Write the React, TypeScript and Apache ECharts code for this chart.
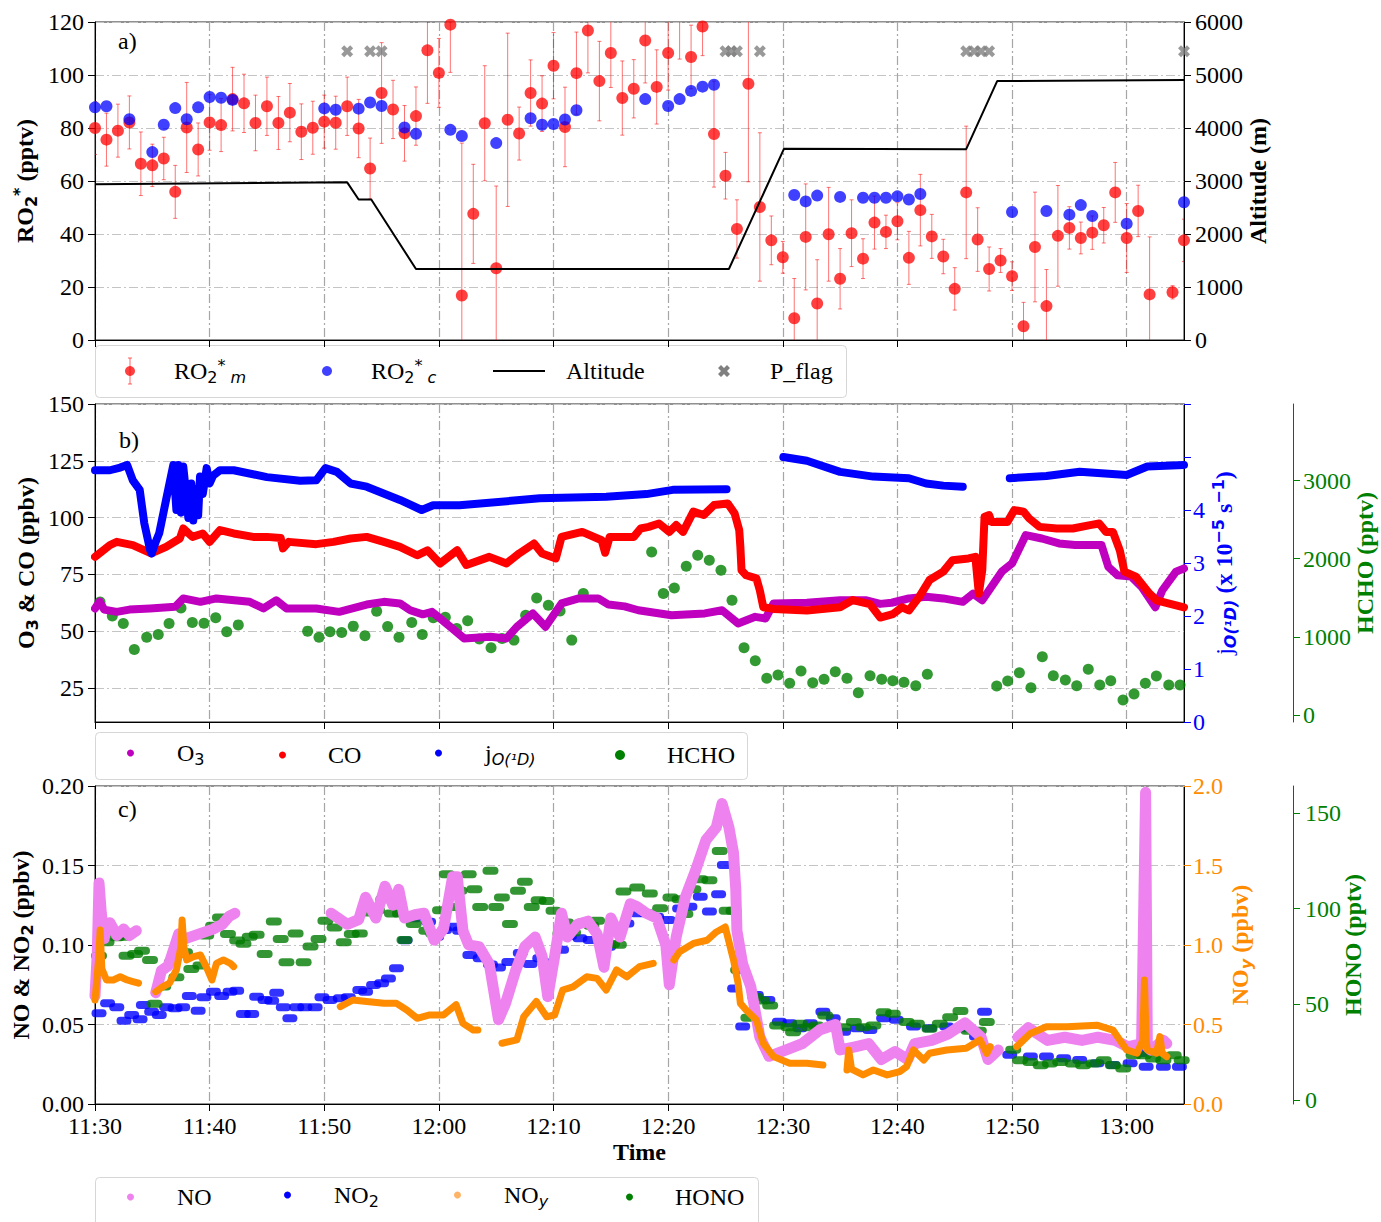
import React, { useEffect, useRef } from 'react';
import * as echarts from 'echarts';

// ---------- time axis: minutes after 11:30 ----------
const timeTicks = [0, 10, 20, 30, 40, 50, 60, 70, 80, 90];

// ---------- panel a ----------
// [minute, RO2*_m (pptv), error]
const ro2m = [
  [0, 80, 10], [1, 75.6, 10], [2, 79, 10], [3, 82.1, 10], [4, 66.5, 12], [5, 65.9, 8], [6, 68.5, 8], [7, 55.9, 10],
  [8, 80.2, 17], [9, 71.9, 10], [10, 82.1, 10.5], [11, 81.1, 10], [12, 90.9, 12], [13, 89.3, 11], [14, 81.9, 10.5],
  [15, 88.2, 11], [16, 81.9, 10], [17, 85.8, 11], [18, 78.6, 10.5], [19, 80.1, 10], [20, 82.4, 10], [21, 82, 10],
  [22, 88.2, 11], [23, 79.8, 11], [24, 64.7, 11.5], [25, 93.2, 19], [26, 87, 11], [27, 78, 10.5], [28, 84.5, 11],
  [29, 109.3, 20], [30, 100.8, 13], [31, 119, 18], [32, 16.8, 57.5], [33, 47.6, 18.7], [34, 81.8, 21.7], [35, 27.1, 31],
  [36, 83.1, 32.7], [37, 77.9, 10], [38, 93.2, 12.5], [39, 89.2, 10.5], [40, 103.5, 12.5], [41, 80.4, 15], [42, 100.7, 15.5],
  [43, 116.8, 16], [44, 97.7, 15], [45, 108.3, 13], [46, 91.3, 14], [47, 94.8, 11], [48, 113, 16], [49, 95.5, 14],
  [50, 108.3, 14], [51, 125, 19], [52, 106.8, 12], [53, 118.3, 11], [54, 77.7, 20], [55, 62, 8.8], [56, 41.9, 11],
  [57, 96.7, 37], [58, 50.2, 28], [59, 37.6, 9.2], [60, 31.2, 6], [61, 8.2, 15], [62, 38.9, 20], [63, 13.8, 16.5],
  [64, 39.9, 17.7], [65, 23.1, 11.4], [66, 40.3, 12.6], [67, 30.7, 7.5], [68, 44.3, 10], [69, 40.8, 6.3], [70, 44.8, 7],
  [71, 31, 10], [72, 49, 13.5], [73, 39.1, 8.3], [74, 31.5, 6.5], [75, 19.3, 8], [76, 55.7, 25], [77, 37.9, 12],
  [78, 26.8, 8.3], [79, 30, 4.5], [80, 24.1, 5.4], [81, 5.2, 9], [82, 35.1, 20.7], [83, 12.8, 13.8], [84, 39.3, 19],
  [85, 42.3, 8], [86, 38.5, 6], [87, 40.5, 6.3], [88, 43.3, 6.7], [89, 55.7, 11.3], [90, 38.5, 13], [91, 48.7, 9.7],
  [92, 17.2, 21.7], [94, 18, 2.5], [95, 37.6, 8],
];
// [minute, RO2*_c (pptv)]
const ro2c = [
  [0, 87.8], [1, 88.2], [3, 83.3], [5, 70.9], [6, 81.2], [7, 87.5], [8, 83.3], [9, 87.8], [10, 91.7], [11, 91.4],
  [12, 90.6], [20, 87.4], [21, 86.9], [23, 87.3], [24, 89.6], [25, 88.3], [27, 80.2], [28, 77.8], [31, 79.3], [32, 77],
  [35, 74.3], [38, 83.7], [39, 81.2], [40, 81.5], [41, 83.2], [42, 86.7], [48, 90.9], [50, 88.3], [51, 90.9], [52, 94],
  [53, 95.6], [54, 96.3], [61, 54.7], [62, 52.3], [63, 54.5], [65, 54], [67, 53.7], [68, 53.7], [69, 53.7], [70, 54.2],
  [71, 53], [72, 55.1], [80, 48.3], [83, 48.7], [85, 47.3], [86, 50.9], [87, 46.8], [90, 43.9], [95, 52],
];
// [minute, altitude (m)]
const altitude = [
  [0, 2940], [22, 2975], [23, 2650], [24.1, 2650], [28, 1340], [55.3, 1340], [60.1, 3607], [76, 3600], [78.7, 4885], [95, 4905],
];
const pFlagTimes = [22, 24, 25, 55, 55.5, 56, 58, 76, 76.7, 77.3, 78, 95];
const pFlagLevel = 109;

// ---------- panel b ----------
const o3Segs = [[
  [0, 60], [0.4, 63], [0.8, 59.5], [1.9, 58.5], [3, 59.5], [4.8, 60], [7, 60.7], [7.7, 64.4], [9.2, 62.9], [10.6, 64.4],
  [13.5, 62.9], [14.7, 60], [15.8, 63.6], [16.7, 60], [19.3, 60], [21.3, 58.5], [23.7, 61.7], [25.2, 62.9], [26.6, 62.2],
  [27.5, 59.2], [28.6, 57.4], [29.4, 58.5], [30.1, 55.6], [31, 51.9], [32.2, 46.8], [34.5, 47.5], [35.9, 46.8],
  [36.8, 51.9], [38.2, 57.8], [39.3, 51.9], [39.9, 56.3], [40.7, 62.2], [42.2, 64.4], [43.9, 64.4], [44.8, 61.7],
  [46.2, 60.9], [47.4, 59.2], [50.3, 57], [53.2, 57.8], [54.7, 59.2], [56.1, 53.4], [57.6, 56.3], [58.5, 55.6],
  [59.2, 62.2], [62.1, 62.5], [65, 63.6], [67.3, 63.6], [68.5, 62], [69.5, 62.5], [71, 64.4], [72.5, 65.1], [74, 64.4],
  [75.7, 62.9], [76.6, 66.5], [77.4, 63.6], [79.1, 76.2], [80, 79.8], [81.2, 92.3], [82.6, 90.8], [84.1, 88.6],
  [85.5, 87.9], [87.8, 87.9], [88.4, 78.3], [89.2, 74.6], [90.4, 74], [91.3, 69.5], [92.5, 60.5], [93.1, 67.9],
  [94.3, 76.2], [95, 77.6],
]];
const coSegs = [[
  [0, 82.7], [1.3, 87.9], [1.9, 89.3], [3.3, 87.9], [4.9, 84.2], [6.2, 87.1], [7.4, 90.8], [7.7, 95.2], [8.5, 91.5],
  [9.4, 93], [10, 89.3], [10.9, 94.5], [12.1, 93], [13.8, 91.5], [15, 91.5], [16.2, 91], [16.4, 86.4], [16.9, 89.3],
  [19.3, 88.3], [20.8, 89.3], [22.3, 90.8], [23.7, 91.5], [25.2, 89.3], [26.6, 87.1], [28.1, 83.4], [29, 85.6],
  [30.1, 79.8], [31.6, 85.6], [32.4, 79.1], [34.4, 82.7], [35.9, 79.8], [37, 84.2], [38.3, 88.6], [39, 84.2],
  [40.2, 82], [40.7, 91.5], [42.5, 93.7], [44.2, 90], [44.5, 84.5], [44.9, 91.5], [47, 91.5], [47.6, 95.2], [48.3, 95.9],
  [49.2, 97.4], [50.1, 93.7], [50.7, 96.7], [51.3, 93.7], [52.2, 102.6], [53.1, 101.1], [54, 105.5], [55.2, 106.2],
  [55.8, 101.8], [56.2, 94.5], [56.3, 87.1], [56.4, 76.8], [56.8, 74.6], [57.7, 73.2], [58, 67.9], [58.3, 60.5],
  [59.2, 59.8], [62.1, 59.1], [65, 60.5], [66.1, 63.7], [67.6, 61.9], [68.5, 56], [69.6, 57.5], [70.4, 60.5], [71, 59.1],
  [71.9, 65.1], [72.8, 72.5], [74, 76.2], [74.8, 81.2], [76.2, 82], [76.8, 82.7], [77.1, 66.5], [77.4, 76.8],
  [77.6, 100.4], [78, 101.1], [78.2, 98.1], [79.6, 98.1], [80.2, 103.3], [81, 102.6], [81.5, 99.6], [82.4, 95.9],
  [83.9, 95.2], [85.3, 95.2], [86.8, 96.7], [87.6, 97.4], [88.2, 93.7], [88.8, 93.7], [89.4, 85.6], [89.8, 76.2],
  [90.8, 74], [92, 66.5], [92.6, 63.6], [95, 60.5],
]];
const jo1dSegs = [
  [
    [0, 4.75], [1.3, 4.75], [2.2, 4.8], [2.8, 4.85], [3.3, 4.56], [3.9, 4.38], [4.3, 3.75], [4.8, 3.25], [4.95, 3.18],
    [5.3, 3.4], [5.6, 3.56], [6.2, 4.19], [6.83, 4.85], [7.1, 4.0], [7.27, 4.85], [7.5, 3.95], [7.7, 4.82], [8.0, 4.2],
    [8.14, 3.85], [8.4, 4.5], [8.57, 3.8], [8.8, 4.4], [9.0, 3.9], [9.16, 4.63], [9.4, 4.3], [9.74, 4.79], [10.0, 4.5],
    [10.3, 4.65], [10.9, 4.75], [12.1, 4.75], [15, 4.62], [17.9, 4.55], [19.3, 4.56], [20.1, 4.79], [21.1, 4.72],
    [22.3, 4.5], [23.7, 4.44], [26.6, 4.19], [28.5, 4.0], [29.5, 4.09], [31.8, 4.09], [38.8, 4.22], [44.6, 4.25],
    [48.1, 4.3], [50.4, 4.38], [55.1, 4.39],
  ],
  [[60.05, 5.0], [62.1, 4.93], [65, 4.72], [67.9, 4.63], [71, 4.6], [72.5, 4.5], [74, 4.46], [75.7, 4.44]],
  [[79.8, 4.6], [83, 4.64], [85.9, 4.72], [90, 4.66], [91.8, 4.82], [95, 4.85]],
];
const hcho = [
  [0.44, 1447], [1.51, 1268], [2.47, 1171], [3.43, 839], [4.51, 996], [5.52, 1030], [6.46, 1171], [7.5, 1370],
  [8.49, 1184], [9.51, 1175], [10.53, 1243], [11.49, 1064], [12.5, 1153], [18.55, 1073], [19.54, 996], [20.5, 1064],
  [21.52, 1056], [22.53, 1137], [23.55, 1013], [24.57, 1328], [25.53, 1133], [26.52, 996], [27.63, 1184], [28.55, 1030],
  [29.51, 1243], [30.56, 1252], [31.55, 1107], [32.51, 1205], [33.53, 971], [34.55, 860], [35.51, 980], [36.55, 958],
  [37.57, 1277], [38.53, 1498], [39.55, 1405], [40.57, 1332], [41.59, 958], [42.6, 1554], [48.56, 2086], [49.58, 1554],
  [50.54, 1626], [51.58, 1903], [52.58, 2043], [53.59, 1980], [54.61, 1852], [55.57, 1469], [56.62, 860], [57.6, 694],
  [58.6, 469], [59.58, 511], [60.6, 405], [61.59, 562], [62.61, 413], [63.6, 456], [64.58, 553], [65.6, 469],
  [66.59, 285], [67.61, 502], [68.63, 456], [69.59, 438], [70.57, 418], [71.6, 374], [72.61, 520], [78.66, 370],
  [79.62, 434], [80.64, 540], [81.65, 349], [82.64, 745], [83.6, 502], [84.65, 447], [85.64, 374], [86.65, 584],
  [87.65, 383], [88.61, 438], [89.68, 192], [90.64, 268], [91.63, 405], [92.59, 498], [93.67, 383], [94.65, 383],
];

// ---------- panel c ----------
const noSegs = [
  [[0, 0.068], [0.2, 0.095], [0.35, 0.139], [0.55, 0.12], [0.8, 0.104], [1.0, 0.112], [1.3, 0.114], [1.9, 0.106],
   [2.5, 0.11], [3.0, 0.106], [3.6, 0.109]],
  [[5.3, 0.07], [5.8, 0.084], [6.4, 0.087], [7.3, 0.107], [7.9, 0.104], [9.1, 0.107], [10.3, 0.11], [11.1, 0.113],
   [11.7, 0.118], [12.2, 0.12]],
  [[20.6, 0.12], [21.2, 0.117], [22, 0.113], [23, 0.116], [23.6, 0.13], [24.5, 0.117], [25.3, 0.137], [26, 0.125],
   [26.5, 0.135], [27, 0.117], [27.9, 0.119], [28.7, 0.12], [29.6, 0.103], [30.4, 0.11], [31.2, 0.143], [31.6, 0.143],
   [32.1, 0.109], [32.6, 0.1], [33.5, 0.099], [34.4, 0.088], [35.2, 0.053], [35.8, 0.063], [36.7, 0.084], [37.5, 0.099],
   [38.4, 0.105], [39, 0.093], [39.5, 0.0675], [40.1, 0.093], [40.7, 0.12], [41.2, 0.105], [42.1, 0.113], [43, 0.115],
   [43.8, 0.107], [44.4, 0.086], [45, 0.117], [45.8, 0.105], [46.7, 0.126], [47.3, 0.124], [48.1, 0.12], [49, 0.117],
   [49.8, 0.1], [50.1, 0.075], [50.7, 0.105], [51.5, 0.13], [52.4, 0.147], [53.3, 0.166], [54.2, 0.174], [54.7, 0.189],
   [55.3, 0.174], [55.7, 0.158], [55.9, 0.135], [56, 0.109], [56.5, 0.088], [57.2, 0.074], [58, 0.042], [58.8, 0.03],
   [60.3, 0.034], [61.7, 0.038], [63.2, 0.0465], [64.6, 0.05], [65, 0.034], [66.3, 0.036], [67.5, 0.038], [68.6, 0.028],
   [69.8, 0.033], [70.9, 0.028], [71.5, 0.038], [73, 0.04], [74.4, 0.044], [75.9, 0.051], [77.3, 0.042], [77.9, 0.028],
   [78.8, 0.034]],
  [[80.5, 0.042], [81.4, 0.048], [83.1, 0.04], [84.6, 0.042], [86.1, 0.04], [87.5, 0.042], [89, 0.04], [90.1, 0.036],
   [91.3, 0.038], [91.65, 0.196], [91.8, 0.036], [92.1, 0.034], [93.2, 0.04], [93.5, 0.038]],
];
const no2 = [
  [0.35, 0.057], [1.1, 0.0633], [1.9, 0.0608], [2.53, 0.0524], [3.2, 0.056], [3.93, 0.0533], [4.22, 0.0623],
  [4.94, 0.058], [5.61, 0.056], [6.25, 0.0608], [6.98, 0.0602], [7.65, 0.0608], [8.23, 0.0679], [9.0, 0.0587],
  [9.5, 0.0671], [10.33, 0.0706], [11.05, 0.0679], [11.78, 0.0706], [12.36, 0.0713], [12.94, 0.0566], [13.67, 0.0566],
  [14.1, 0.0675], [14.83, 0.0654], [15.41, 0.065], [15.85, 0.07], [16.43, 0.0608], [17.0, 0.0539], [17.6, 0.0608],
  [18.3, 0.0608], [19.2, 0.0608], [19.8, 0.0671], [20.5, 0.0654], [21.4, 0.0665], [22.1, 0.0671], [23.1, 0.0717],
  [23.6, 0.0706], [24.3, 0.0748], [25.0, 0.0759], [25.6, 0.079], [26.3, 0.0853], [27.05, 0.103], [27.8, 0.1168],
  [28.5, 0.1189], [29.1, 0.1147], [29.8, 0.1052], [30.5, 0.1094], [31.3, 0.1115], [31.8, 0.109], [32.7, 0.0937],
  [33.6, 0.0917], [34.5, 0.0877], [35.2, 0.0858], [36.1, 0.0893], [37.1, 0.095], [37.95, 0.088], [38.8, 0.0917],
  [39.7, 0.089], [40.7, 0.097], [41.4, 0.1056], [42.3, 0.1042], [43.2, 0.1032], [44.1, 0.104], [44.8, 0.0989],
  [45.7, 0.1105], [46.4, 0.1136], [47.3, 0.1199], [48.1, 0.1199], [49.0, 0.1178], [50.0, 0.1157], [51.0, 0.123],
  [51.9, 0.1241], [52.8, 0.1304], [53.6, 0.121], [54.4, 0.1319], [54.9, 0.1503], [55.8, 0.0727], [56.5, 0.0487],
  [57.7, 0.0685], [58.7, 0.0654], [59.7, 0.0518], [60.6, 0.0508], [61.5, 0.0476], [62.4, 0.0508], [63.5, 0.058],
  [64.4, 0.0539], [65.3, 0.0455], [66.5, 0.0476], [67.6, 0.0466], [68.8, 0.0539], [69.9, 0.053], [71.4, 0.0487],
  [72.8, 0.0476], [74.3, 0.0487], [75.8, 0.0476], [76.9, 0.0424], [77.6, 0.058], [79.8, 0.031], [81.6, 0.0298],
  [83.0, 0.0298], [84.5, 0.0288], [85.9, 0.0277], [87.4, 0.0256], [88.8, 0.0246], [90.3, 0.0256], [91.2, 0.032],
  [91.7, 0.0235], [93.2, 0.0235], [94.6, 0.0235],
];
const noySegs = [
  [[0, 0.654], [0.3, 0.9], [0.45, 1.094], [0.6, 0.85], [1.0, 0.78], [1.6, 0.78], [2.2, 0.8], [2.8, 0.78], [3.3, 0.77],
   [3.8, 0.76]],
  [[5.3, 0.706], [5.9, 0.737], [6.5, 0.76], [7.1, 0.843], [7.5, 0.99], [7.6, 1.157], [7.75, 0.99], [8.0, 0.906],
   [8.6, 0.927], [9.2, 0.937], [9.7, 0.864], [10.2, 0.78], [10.6, 0.885], [11.2, 0.906], [11.8, 0.885], [12.1, 0.864]],
  [[21.4, 0.612], [22.5, 0.654], [23.7, 0.645], [25.2, 0.633], [26.3, 0.633], [27.2, 0.591], [28.1, 0.539],
   [29.2, 0.56], [30.4, 0.56], [31.5, 0.625], [32.1, 0.507], [33, 0.465], [33.4, 0.465]],
  [[35.5, 0.382], [36.8, 0.403], [37.4, 0.549], [38.5, 0.645], [39.4, 0.549], [40.1, 0.56], [40.8, 0.717],
   [41.7, 0.737], [42.9, 0.8], [43.8, 0.79], [44.6, 0.717], [45.5, 0.843], [46.4, 0.8], [47.5, 0.864], [48.7, 0.885]],
  [[50.5, 0.906], [51, 0.958], [52.2, 1.01], [53.4, 1.03], [54.2, 1.082], [54.98, 1.113], [55.7, 0.906], [56.1, 0.76],
   [56.3, 0.633], [56.8, 0.591], [57.7, 0.528], [58.3, 0.382], [59.2, 0.298], [60.6, 0.256], [62.1, 0.256], [63.5, 0.245]],
  [[65.6, 0.214], [65.75, 0.34], [66, 0.22], [67, 0.183], [67.9, 0.214], [69.1, 0.183], [70.2, 0.204], [70.8, 0.235],
   [71.4, 0.34], [72.3, 0.277], [72.8, 0.319], [74.3, 0.34], [76, 0.35], [77.2, 0.403], [77.8, 0.319], [78.1, 0.361]],
  [[80.4, 0.361], [81.6, 0.444], [83, 0.486], [84.8, 0.486], [87.4, 0.496], [88.8, 0.465], [90, 0.34], [90.9, 0.319],
   [91.4, 0.4], [91.55, 0.78], [91.7, 0.4], [91.8, 0.34], [92.6, 0.32], [92.9, 0.424], [93.1, 0.32], [93.5, 0.298]],
];
const hono = [
  [0.35, 75.4], [1.0, 82.4], [1.9, 85], [2.6, 85.3], [2.75, 75.4], [3.5, 76.3], [4.1, 78], [4.8, 73.2], [5.2, 50.3],
  [5.95, 59.3], [6.7, 72], [7.1, 64.2], [7.85, 77.2], [8.4, 68.5], [9.2, 70.3], [9.7, 85.9], [10.3, 91.1], [10.9, 95.4],
  [11.6, 86.8], [12.4, 83.3], [12.95, 81.6], [13.5, 85.3], [14.1, 86.3], [14.8, 76.3], [15.6, 93.3], [16.2, 84.1],
  [16.7, 72], [17.5, 87], [18.2, 72], [18.8, 80.2], [19.5, 84.1], [20.1, 93.6], [20.9, 90.2], [21.7, 82.4], [22.4, 86.7],
  [23.1, 87], [23.8, 98], [24.6, 99.2], [25.15, 104.9], [25.9, 97.4], [26.6, 97.4], [27.0, 83.6], [27.8, 91.9],
  [28.4, 97.4], [28.9, 88.4], [29.5, 87], [30.1, 99.2], [30.7, 117.9], [31.3, 100.9], [31.8, 109.3], [32.6, 117.9],
  [33.1, 110.1], [33.6, 100.9], [34.5, 119.7], [35.0, 100.9], [35.5, 105.8], [36.2, 91.9], [36.9, 109.3], [37.5, 114],
  [38.1, 100.9], [38.7, 104.4], [39.4, 104], [40.0, 98.9], [40.6, 87], [41.1, 92.8], [41.7, 87.5], [42.6, 92.8],
  [43.3, 91], [43.8, 93.7], [44.3, 84.1], [45.1, 81.5], [45.7, 81.1], [46.1, 108.9], [47.3, 111], [48.4, 107.9],
  [49.3, 100.2], [50.2, 105.8], [51.0, 104.9], [51.5, 97.2], [52.2, 110.1], [52.8, 115.3], [53.6, 114.8], [54.5, 130.1],
  [55.1, 98.9], [55.7, 98.9], [56.1, 68], [57.0, 43], [57.6, 53.8], [58.2, 52], [58.9, 49.4], [59.5, 39], [60.5, 38.1],
  [60.9, 35.5], [61.5, 39.9], [62.2, 38.1], [62.9, 39], [63.7, 44.2], [64.4, 39], [65.3, 38.1], [66.2, 40.8], [67.0, 38.1],
  [67.9, 39], [68.8, 45.9], [69.6, 45.1], [70.8, 40.8], [71.7, 39.9], [72.8, 37.3], [73.7, 39.9], [74.6, 43.3],
  [75.5, 46.6], [76.2, 36.2], [77.1, 36.2], [77.8, 40.8], [80.1, 26.3], [80.7, 20.8], [81.6, 19.9], [82.5, 18.2],
  [83.3, 19.1], [84.2, 19.9], [85.3, 19.1], [86.2, 18.2], [87.1, 19.1], [88.0, 20.8], [88.8, 18.2], [89.7, 16.5],
  [90.6, 23.4], [91.5, 23.4], [92.3, 21.7], [93.2, 20.8], [94.1, 23.4], [94.8, 20.8],
];

// ---------- style constants ----------
const SERIF = '"Liberation Serif", "Times New Roman", serif';
const MATH = '"DejaVu Sans", sans-serif';
const X_PATH = 'path://M0,3 L3,0 L6,3 L9,0 L12,3 L9,6 L12,9 L9,12 L6,9 L3,12 L0,9 L3,6 Z';
const CAPSULE = 'path://M4,0 L12,0 A4,4 0 0 1 12,8 L4,8 A4,4 0 0 1 4,0 Z';

function joinSegs(segs: number[][][]) {
  const out: any[] = [];
  segs.forEach((s, i) => {
    if (i > 0) out.push([s[0][0], '-']);
    s.forEach((p) => out.push(p));
  });
  return out;
}

function timeLabel(v: number) {
  const tot = 11 * 60 + 30 + Math.round(v);
  const h = Math.floor(tot / 60);
  const m = tot % 60;
  return `${h}:${String(m).padStart(2, '0')}`;
}

function rich(color: string, bold: boolean) {
  const w = bold ? 'bold' : 'normal';
  return {
    r: { fontFamily: SERIF, fontSize: 24, color, fontWeight: 'normal' },
    b: { fontFamily: SERIF, fontSize: 24, color, fontWeight: w },
    sub: { fontFamily: MATH, fontSize: 16, color, padding: [12, 0, 0, 0] },
    sup: { fontFamily: MATH, fontSize: 16, color, padding: [0, 0, 12, 0] },
    it: { fontFamily: MATH, fontSize: 16, color, fontStyle: 'italic', padding: [12, 0, 0, 0] },
  };
}

const gridLineH = { show: true, lineStyle: { color: '#c4c4c4', type: [9, 3, 2, 3], width: 1.2 } };
const gridLineV = { show: true, lineStyle: { color: '#a6a6a6', type: [9, 3, 2, 3], width: 1.2 } };

function xAxis(i: number) {
  return {
    type: 'value', gridIndex: i, min: 0, max: 95,
    axisLine: { show: true, onZero: false, lineStyle: { color: '#000', width: 1 } },
    axisTick: { show: true, length: 7, customValues: timeTicks, lineStyle: { color: '#000' } },
    axisLabel: {
      show: i === 2, customValues: timeTicks, formatter: timeLabel, margin: 10,
      fontFamily: SERIF, fontSize: 24, color: '#000',
    },
    splitLine: gridLineV,
    name: i === 2 ? 'Time' : '',
    nameLocation: 'middle', nameGap: 36, nameMoveOverlap: false,
    nameTextStyle: { fontFamily: SERIF, fontSize: 24, fontWeight: 'bold', color: '#000' },
  };
}

function yAxis(o: any) {
  const color = o.color || '#000';
  return {
    type: 'value', gridIndex: o.grid, position: o.pos, offset: o.offset || 0,
    min: o.min, max: o.max, interval: o.interval,
    axisLine: { show: true, onZero: false, lineStyle: { color: o.lineColor || '#000', width: 1 } },
    axisTick: { show: true, length: 7, customValues: o.ticks, lineStyle: { color } },
    axisLabel: {
      show: true, customValues: o.ticks, formatter: o.fmt || ((v: number) => String(v)), margin: o.margin || 11,
      fontFamily: SERIF, fontSize: 24, color,
    },
    splitLine: o.split ? gridLineH : { show: false },
    name: o.name, nameLocation: 'middle', nameGap: o.gap, nameMoveOverlap: false,
    nameTextStyle: { fontFamily: SERIF, fontSize: 24, fontWeight: 'bold', color, rich: rich(color, true) },
  };
}

function legendItem(o: any) {
  return {
    show: true, selectedMode: false, left: o.left, top: o.top, orient: 'horizontal',
    itemWidth: o.w, itemHeight: o.h, padding: 0,
    data: [{ name: o.name, icon: o.icon, itemStyle: { color: o.color, opacity: o.opacity == null ? 1 : o.opacity } }],
    formatter: () => o.label,
    textStyle: { fontFamily: SERIF, fontSize: 24, color: '#000', padding: [0, 0, 0, o.pad], rich: rich('#000', false) },
  };
}

const App: React.FC = () => {
  const ref = useRef<HTMLDivElement>(null);

  useEffect(() => {
    if (!ref.current) return;
    const chart = echarts.init(ref.current, undefined, { renderer: 'svg' });

    const grids = [22, 404, 786].map((top) => ({
      left: 95, right: 197, top, height: 318, show: true, borderColor: '#222', borderWidth: 1,
      backgroundColor: 'transparent', containLabel: false, outerBoundsMode: 'none',
    }));

    const yAxes = [
      yAxis({ grid: 0, pos: 'left', min: 0, max: 120, interval: 20, split: true, gap: 56,
        name: '{b|RO}{sub|2}{sup|*}{b| (pptv)}' }),
      yAxis({ grid: 0, pos: 'right', min: 0, max: 6000, interval: 1000, gap: 62, name: 'Altitude (m)' }),
      yAxis({ grid: 1, pos: 'left', min: 10, max: 150, ticks: [25, 50, 75, 100, 125, 150], split: true, gap: 55,
        name: '{b|O}{sub|3}{b| & CO (ppbv)}' }),
      yAxis({ grid: 1, pos: 'right', min: 0, max: 6, interval: 1, color: '#0000ff', margin: 9, gap: 26,
        fmt: (v: number) => (v <= 4 ? String(v) : ''),
        name: '{r|j}{it|O(¹D)}{b| (x 10}{sup|−5}{b| s}{sup|−1}{b|)}' }),
      yAxis({ grid: 1, pos: 'right', offset: 109, min: -90, max: 3980, ticks: [0, 1000, 2000, 3000],
        color: '#008000', lineColor: '#444', margin: 10, gap: 60, name: 'HCHO (pptv)' }),
      yAxis({ grid: 2, pos: 'left', min: 0, max: 0.2, interval: 0.05, split: true, gap: 60,
        fmt: (v: number) => v.toFixed(2), name: '{b|NO & NO}{sub|2}{b| (ppbv)}' }),
      yAxis({ grid: 2, pos: 'right', min: 0, max: 2, interval: 0.5, color: '#ff8c00', margin: 9, gap: 42,
        fmt: (v: number) => v.toFixed(1), name: '{b|NO}{it|y}{b| (ppbv)}' }),
      yAxis({ grid: 2, pos: 'right', offset: 109, min: -2, max: 164, ticks: [0, 50, 100, 150],
        color: '#008000', lineColor: '#444', margin: 12, gap: 48, name: 'HONO (pptv)' }),
    ];

    const series: any[] = [
      // ---- panel a ----
      {
        type: 'custom', name: 'RO2m_err', xAxisIndex: 0, yAxisIndex: 0, clip: true, silent: true,
        data: ro2m.map((d) => [d[0], d[1] - d[2], d[1] + d[2]]),
        encode: { x: 0, y: [1, 2] },
        renderItem: (params: any, api: any) => {
          const x = api.value(0);
          const p1 = api.coord([x, api.value(1)]);
          const p2 = api.coord([x, api.value(2)]);
          const style = { stroke: 'rgba(255,0,0,0.55)', lineWidth: 1, fill: null };
          return {
            type: 'group',
            children: [
              { type: 'line', shape: { x1: p1[0], y1: p1[1], x2: p2[0], y2: p2[1] }, style },
              { type: 'line', shape: { x1: p1[0] - 2, y1: p1[1], x2: p1[0] + 2, y2: p1[1] }, style },
              { type: 'line', shape: { x1: p2[0] - 2, y1: p2[1], x2: p2[0] + 2, y2: p2[1] }, style },
            ],
          };
        },
      },
      {
        type: 'scatter', name: 'RO2m', xAxisIndex: 0, yAxisIndex: 0, symbolSize: 12,
        itemStyle: { color: '#ff0000', opacity: 0.75 }, data: ro2m.map((d) => [d[0], d[1]]),
      },
      {
        type: 'scatter', name: 'RO2c', xAxisIndex: 0, yAxisIndex: 0, symbolSize: 12,
        itemStyle: { color: '#0000ff', opacity: 0.75 }, data: ro2c,
      },
      {
        type: 'line', name: 'Altitude', xAxisIndex: 0, yAxisIndex: 1, symbol: 'none', showSymbol: false,
        lineStyle: { color: '#000', width: 2 }, itemStyle: { color: '#000' }, data: altitude,
      },
      {
        type: 'scatter', name: 'P_flag', xAxisIndex: 0, yAxisIndex: 0, symbol: X_PATH, symbolSize: 12,
        itemStyle: { color: '#808080' }, data: pFlagTimes.map((t) => [t, pFlagLevel]),
      },
      // ---- panel b ----
      {
        type: 'line', name: 'O3', xAxisIndex: 1, yAxisIndex: 2, showSymbol: false, symbol: 'none',
        lineStyle: { color: '#bf00bf', width: 8, cap: 'round', join: 'round' }, itemStyle: { color: '#bf00bf' },
        data: joinSegs(o3Segs),
      },
      {
        type: 'line', name: 'CO', xAxisIndex: 1, yAxisIndex: 2, showSymbol: false, symbol: 'none',
        lineStyle: { color: '#ff0000', width: 8, cap: 'round', join: 'round' }, itemStyle: { color: '#ff0000' },
        data: joinSegs(coSegs),
      },
      {
        type: 'line', name: 'jO1D', xAxisIndex: 1, yAxisIndex: 3, showSymbol: false, symbol: 'none',
        lineStyle: { color: '#0000ff', width: 8, cap: 'round', join: 'round' }, itemStyle: { color: '#0000ff' },
        data: joinSegs(jo1dSegs),
      },
      {
        type: 'scatter', name: 'HCHO', xAxisIndex: 1, yAxisIndex: 4, symbolSize: 11,
        itemStyle: { color: '#008000' }, data: hcho,
      },
      // ---- panel c ----
      {
        type: 'line', name: 'NO', xAxisIndex: 2, yAxisIndex: 5, showSymbol: false, symbol: 'none',
        lineStyle: { color: '#ee82ee', width: 11, cap: 'round', join: 'round' }, itemStyle: { color: '#ee82ee' },
        data: joinSegs(noSegs),
      },
      {
        type: 'scatter', name: 'NO2', xAxisIndex: 2, yAxisIndex: 5, symbol: CAPSULE, symbolSize: [15, 8],
        itemStyle: { color: '#0000ff' }, data: no2,
      },
      {
        type: 'line', name: 'NOy', xAxisIndex: 2, yAxisIndex: 6, showSymbol: false, symbol: 'none',
        lineStyle: { color: '#ff8c00', width: 7, cap: 'round', join: 'round' }, itemStyle: { color: '#ff8c00' },
        data: joinSegs(noySegs),
      },
      {
        type: 'scatter', name: 'HONO', xAxisIndex: 2, yAxisIndex: 7, symbol: CAPSULE, symbolSize: [16, 8],
        itemStyle: { color: '#007a00' }, data: hono,
      },
    ];

    const legends = [
      legendItem({ name: 'RO2m', left: 125, top: 357, w: 10, h: 12, icon: 'circle', color: '#ff0000', opacity: 0.75, pad: 34,
        label: '{r|RO}{sub|2}{sup|*}{it| m}' }),
      legendItem({ name: 'RO2c', left: 322, top: 357, w: 10, h: 12, icon: 'circle', color: '#0000ff', opacity: 0.75, pad: 34,
        label: '{r|RO}{sub|2}{sup|*}{it| c}' }),
      legendItem({ name: 'Altitude', left: 493, top: 359, w: 52, h: 2, icon: 'rect', color: '#000', pad: 16,
        label: '{r|Altitude}' }),
      legendItem({ name: 'P_flag', left: 718, top: 359, w: 12, h: 12, icon: X_PATH, color: '#808080', pad: 35,
        label: '{r|P_flag}' }),

      legendItem({ name: 'O3', left: 127, top: 741, w: 7, h: 7, icon: 'circle', color: '#bf00bf', pad: 38,
        label: '{r|O}{sub|3}' }),
      legendItem({ name: 'CO', left: 279, top: 743, w: 7, h: 7, icon: 'circle', color: '#ff0000', pad: 37,
        label: '{r|CO}' }),
      legendItem({ name: 'jO1D', left: 435, top: 741, w: 7, h: 7, icon: 'circle', color: '#0000ff', pad: 38,
        label: '{r|j}{it|O(¹D)}' }),
      legendItem({ name: 'HCHO', left: 615, top: 743, w: 10, h: 10, icon: 'circle', color: '#008000', pad: 37,
        label: '{r|HCHO}' }),

      legendItem({ name: 'NO', left: 127, top: 1185, w: 7, h: 7, icon: 'circle', color: '#ee82ee', pad: 38,
        label: '{r|NO}' }),
      legendItem({ name: 'NO2', left: 284, top: 1183, w: 7, h: 7, icon: 'circle', color: '#0000ff', pad: 38,
        label: '{r|NO}{sub|2}' }),
      legendItem({ name: 'NOy', left: 454, top: 1183, w: 7, h: 7, icon: 'circle', color: '#ffb366', pad: 38,
        label: '{r|NO}{it|y}' }),
      legendItem({ name: 'HONO', left: 626, top: 1185, w: 7, h: 7, icon: 'circle', color: '#008000', pad: 37,
        label: '{r|HONO}' }),
    ];

    const boxStyle = { fill: '#ffffff', stroke: '#d6d6d6', lineWidth: 1 };
    const ebStyle = { stroke: 'rgba(255,0,0,0.6)', lineWidth: 1 };
    const graphic = [
      { type: 'rect', z: -1, shape: { x: 95.5, y: 345.5, width: 751, height: 52, r: 4 }, style: boxStyle },
      { type: 'rect', z: -1, shape: { x: 95.5, y: 732.5, width: 652, height: 47, r: 4 }, style: boxStyle },
      { type: 'rect', z: -1, shape: { x: 95.5, y: 1177.5, width: 663, height: 52, r: 4 }, style: boxStyle },
      { type: 'line', z: 5, shape: { x1: 130, y1: 358, x2: 130, y2: 384 }, style: ebStyle },
      { type: 'line', z: 5, shape: { x1: 128, y1: 358, x2: 132, y2: 358 }, style: ebStyle },
      { type: 'line', z: 5, shape: { x1: 128, y1: 384, x2: 132, y2: 384 }, style: ebStyle },
      { type: 'text', left: 118, top: 29, style: { text: 'a)', font: `24px ${SERIF}`, fill: '#000' } },
      { type: 'text', left: 119, top: 428, style: { text: 'b)', font: `24px ${SERIF}`, fill: '#000' } },
      { type: 'text', left: 118, top: 797, style: { text: 'c)', font: `24px ${SERIF}`, fill: '#000' } },
    ];

    chart.setOption({
      animation: false,
      backgroundColor: '#ffffff',
      textStyle: { fontFamily: SERIF },
      grid: grids,
      xAxis: [xAxis(0), xAxis(1), xAxis(2)],
      yAxis: yAxes,
      legend: legends,
      graphic,
      series,
    });

    return () => chart.dispose();
  }, []);

  return (
    <div
      ref={ref}
      style={{ position: 'absolute', left: 0, top: 0, width: 1381, height: 1222, background: '#fff' }}
    />
  );
};

export default App;
